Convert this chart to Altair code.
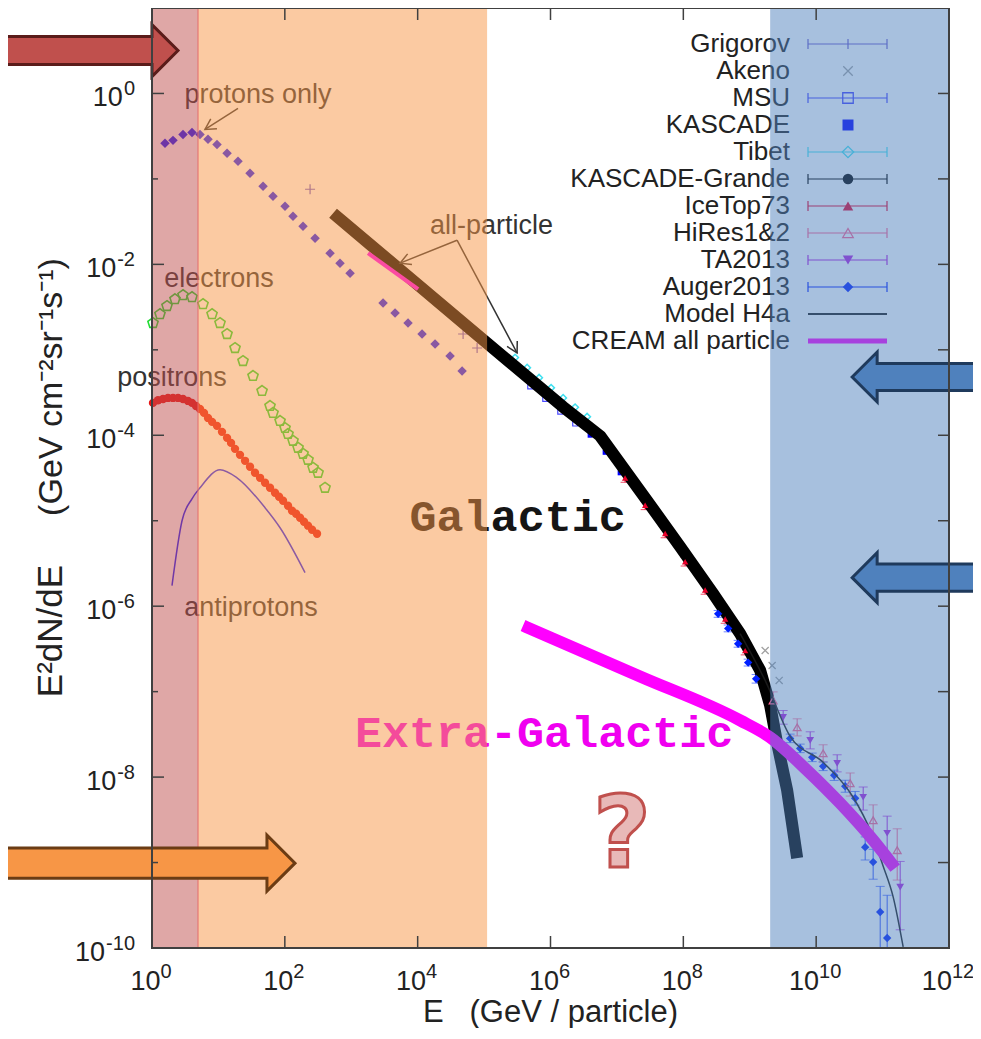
import math
import altair as alt
import numpy as np
import pandas as pd

# ---------------- values ----------------
# all positions are log10(E / GeV) and log10(E^2 dN/dE / GeV cm^-2 sr^-1 s^-1)
protons_lgE = [0.196, 0.316, 0.467, 0.602, 0.723, 0.843, 0.979, 1.130, 1.295, 1.476, 1.672, 1.822, 2.003,
               2.123, 2.274, 2.455, 2.681, 2.831, 2.982, 3.479, 3.660, 3.855, 4.066, 4.262, 4.488, 4.669]
protons_lgF = [-0.584, -0.549, -0.479, -0.456, -0.479, -0.537, -0.596, -0.701, -0.794, -0.935, -1.086, -1.203, -1.320,
               -1.437, -1.554, -1.694, -1.869, -1.986, -2.103, -2.453, -2.570, -2.687, -2.815, -2.932, -3.072, -3.248]

electrons_lgE = [0.015, 0.120, 0.226, 0.346, 0.467, 0.602, 0.768, 0.904, 1.024, 1.130, 1.250, 1.370, 1.521,
                 1.657, 1.777, 1.822, 1.928, 2.003, 2.048, 2.123, 2.199, 2.274, 2.349, 2.425, 2.500, 2.605]
electrons_lgF = [-2.687, -2.582, -2.488, -2.407, -2.360, -2.383, -2.465, -2.582, -2.687, -2.815, -2.979, -3.131, -3.306,
                 -3.481, -3.657, -3.738, -3.832, -3.914, -3.984, -4.065, -4.147, -4.217, -4.287, -4.381, -4.439, -4.615]

positrons_lgE = [0.015, 0.090, 0.166, 0.241, 0.316, 0.392, 0.467, 0.542, 0.602, 0.663, 0.723, 0.783, 0.843, 0.904,
                 0.979, 1.054, 1.130, 1.190, 1.250, 1.325, 1.401, 1.476, 1.551, 1.627, 1.702, 1.777, 1.852, 1.913,
                 1.973, 2.048, 2.108, 2.169, 2.229, 2.289, 2.349, 2.410, 2.485]
positrons_lgF = [-3.621, -3.590, -3.575, -3.563, -3.563, -3.563, -3.575, -3.598, -3.621, -3.657, -3.692, -3.738, -3.797,
                 -3.843, -3.890, -3.960, -4.030, -4.089, -4.159, -4.229, -4.299, -4.369, -4.439, -4.498, -4.556, -4.614,
                 -4.673, -4.720, -4.766, -4.825, -4.883, -4.918, -4.965, -5.012, -5.058, -5.105, -5.152]

antiprotons_lgE = [0.301, 0.452, 0.602, 0.723, 1.024, 1.280, 1.702, 1.928, 2.304]
antiprotons_lgF = [-5.759, -5.000, -4.743, -4.614, -4.404, -4.498, -4.848, -5.082, -5.607]

grigorov_lgE = [2.380, 4.684, 4.895]
grigorov_lgF = [-1.121, -2.815, -2.979]

galactic_lgE = [2.726, 5.045, 6.190, 6.747, 7.455, 7.952, 8.449, 8.855, 9.157, 9.307, 9.413, 9.563, 9.714]
galactic_lgF = [-1.402, -2.921, -3.668, -4.007, -4.766, -5.304, -5.853, -6.320, -6.752, -7.161, -7.605, -8.154, -8.949]

cream_lgE = [3.253, 4.006]
cream_lgF = [-1.869, -2.290]

tibet_lgE = [5.467, 5.648, 5.828, 6.009, 6.190, 6.370, 6.551]
tibet_lgF = [-3.091, -3.209, -3.327, -3.445, -3.563, -3.673, -3.783]

msu_lgE = [5.693, 5.919, 6.145, 6.370]
msu_lgF = [-3.430, -3.577, -3.725, -3.864]

kascade_lgE = [6.596, 6.822, 7.048]
kascade_lgF = [-4.000, -4.200, -4.440]

kgrande_lgE = [7.048, 7.500, 7.952, 8.404, 8.855]
kgrande_lgF = [-4.330, -4.815, -5.304, -5.803, -6.320]

icetop_lgE = [7.123, 7.425, 7.726, 8.027, 8.328, 8.630, 8.931]
icetop_lgF = [-4.500, -4.820, -5.150, -5.480, -5.810, -6.150, -6.520]

auger_lgE = [8.524, 8.675, 8.825, 8.976, 9.096, 9.608, 9.759, 9.940, 10.105, 10.271, 10.437, 10.587,
             10.738, 10.858, 10.964, 11.069]
auger_lgF = [-6.090, -6.260, -6.440, -6.660, -6.850, -7.547, -7.664, -7.769, -7.874, -7.979, -8.107, -8.248,
             -8.820, -8.995, -9.579, -9.883]
auger_errlo = [0.04, 0.04, 0.04, 0.04, 0.05, 0.05, 0.05, 0.05, 0.05, 0.06, 0.07, 0.08, 0.15, 0.20, 0.45, 0.40]
auger_errhi = [0.04, 0.04, 0.04, 0.04, 0.05, 0.05, 0.05, 0.05, 0.05, 0.06, 0.07, 0.08, 0.12, 0.15, 0.30, 0.50]

hires_lgE = [9.352, 9.714, 10.105, 10.512, 10.858, 11.220]
hires_lgF = [-7.103, -7.418, -7.722, -8.072, -8.505, -8.855]
hires_errlo = [0.10, 0.10, 0.10, 0.15, 0.20, 0.35]
hires_errhi = [0.10, 0.10, 0.10, 0.12, 0.18, 0.25]

ta_lgE = [9.503, 9.910, 10.316, 10.708, 11.069, 11.265]
ta_lgF = [-7.301, -7.570, -7.839, -8.236, -8.657, -9.287]
ta_errlo = [0.08, 0.10, 0.10, 0.15, 0.25, 0.50]
ta_errhi = [0.08, 0.10, 0.10, 0.12, 0.20, 0.30]

akeno_lgE = [9.232, 9.337, 9.443]
akeno_lgF = [-6.519, -6.694, -6.869]

h4a_lgE = [8.855, 9.232, 9.608, 10.105, 10.557, 10.813, 11.009, 11.160, 11.310]
h4a_lgF = [-6.320, -6.869, -7.523, -7.827, -8.236, -8.621, -9.042, -9.404, -9.988]

extragal_lgE = [5.587, 7.349, 8.855, 9.307, 9.864, 10.361, 10.858, 11.190]
extragal_lgF = [-6.227, -6.822, -7.336, -7.535, -7.921, -8.306, -8.738, -9.065]

# energy ranges shaded in the picture (GeV)
band_lo = [1.0, 4.93, 2.03e9]
band_hi = [4.93, 1.11e5, 1.0e12]
band_col = ["#c0504d", "#f79646", "#4f81bd"]

# text annotations (centre log10 E, baseline log10 F)
ann_text = ["protons only", "electrons", "positrons", "antiprotons", "all-particle"]
ann_lgE = [1.596, 1.009, 0.301, 1.491, 5.113]
ann_lgF = [-0.111, -2.266, -3.423, -6.110, -1.647]

# annotation arrows: (start lgE, start lgF, end lgE, end lgF)
ann_arrows = [(1.295, -0.175, 0.798, -0.421),
              (4.593, -1.717, 3.735, -1.986),
              (4.593, -1.717, 5.497, -3.037)]

legend_labels = ["Grigorov", "Akeno", "MSU", "KASCADE", "Tibet", "KASCADE-Grande", "IceTop73",
                 "HiRes1&2", "TA2013", "Auger2013", "Model H4a", "CREAM all particle"]
legend_colors = ["#6a5acd", "#a0a0a0", "#4040ff", "#0000ff", "#40e0f0", "#000000", "#e8002a",
                 "#ff6090", "#b020e0", "#0020ff", "#1a1a1a", "#ff00ff"]

x_tick_exps = [0, 2, 4, 6, 8, 10, 12]
y_tick_exps = [0, -2, -4, -6, -8, -10]

# ---------------- layout ----------------
W, H = 797, 940
LX0, LX1 = 0, 12
LY0, LY1 = -10, 1
SANS = "Liberation Sans"
MONO = "Liberation Mono"
TXT = "#222222"
NB = "\u00a0"

XS = alt.Scale(type="log", domain=[10.0 ** LX0, 10.0 ** LX1])
YS = alt.Scale(type="log", domain=[10.0 ** LY0, 10.0 ** LY1])


def px2x(px):
    return 10 ** (LX0 + px / W * (LX1 - LX0))


def py2y(py):
    return 10 ** (LY1 - py / H * (LY1 - LY0))


def x2px(x):
    return (math.log10(x) - LX0) / (LX1 - LX0) * W


def y2py(y):
    return (LY1 - math.log10(y)) / (LY1 - LY0) * H


def EX(f="x"):
    return alt.X(f"{f}:Q", scale=XS, axis=None)


def EY(f="y"):
    return alt.Y(f"{f}:Q", scale=YS, axis=None)


def frame(lx, ly, **cols):
    d = pd.DataFrame({"x": np.power(10.0, np.array(lx, dtype=float)),
                      "y": np.power(10.0, np.array(ly, dtype=float))})
    for k, v in cols.items():
        d[k] = v
    return d


def points(lx, ly, **mk):
    mk.setdefault("opacity", 1)
    return alt.Chart(frame(lx, ly)).mark_point(**mk).encode(x=EX(), y=EY())


def line(lx, ly, **mk):
    d = frame(lx, ly, o=list(range(len(lx))))
    return alt.Chart(d).mark_line(**mk).encode(x=EX(), y=EY(), order="o:Q")


def errbars(lx, ly, lo, hi, color):
    lx = np.array(lx); ly = np.array(ly)
    d = pd.DataFrame({"x": 10 ** lx, "y": 10 ** (ly - np.array(lo)), "y2": 10 ** (ly + np.array(hi))})
    caps = pd.DataFrame({"x": np.concatenate([10 ** lx, 10 ** lx]),
                         "y": np.concatenate([d["y"].values, d["y2"].values])})
    r = alt.Chart(d).mark_rule(color=color, strokeWidth=1, clip=True).encode(x=EX(), y=EY(), y2="y2:Q")
    c = alt.Chart(caps).mark_tick(orient="horizontal", size=9, thickness=1, color=color, clip=True).encode(x=EX(), y=EY())
    return [r, c]


def text_at(lx, ly, txt, **mk):
    d = frame([lx], [ly], t=[txt])
    return alt.Chart(d).mark_text(**mk).encode(x=EX(), y=EY(), text="t:N")


layers = []

# ---------------- particle spectra ----------------
PENT = "M0,-1L0.951,-0.309L0.588,0.809L-0.588,0.809L-0.951,-0.309Z"
PLUS = "M-1,0L1,0M0,-1L0,1"
CROSS = "M-1,-1L1,1M1,-1L-1,1"

layers.append(line(antiprotons_lgE, antiprotons_lgF, color="#2020ff", strokeWidth=1.5, interpolate="monotone"))
layers.append(points(electrons_lgE, electrons_lgF, shape=PENT, filled=False, color="#22dd33", strokeWidth=1.6, size=115))
layers.append(alt.Chart(frame(positrons_lgE, positrons_lgF)).mark_circle(color="#e81414", size=70, opacity=1)
              .encode(x=EX(), y=EY()))
layers.append(points(protons_lgE, protons_lgF, shape="diamond", filled=True, color="#1a1aff", size=90))
layers.append(points(grigorov_lgE, grigorov_lgF, shape=PLUS, filled=False, color="#6a5acd", strokeWidth=1.2, size=100))

# all-particle data around the knee / ankle
layers += errbars(icetop_lgE, icetop_lgF, [0.05] * 7, [0.05] * 7, "#e8002a")
layers += errbars(hires_lgE, hires_lgF, hires_errlo, hires_errhi, "#ff6090")
layers += errbars(ta_lgE, ta_lgF, ta_errlo, ta_errhi, "#b020e0")
layers += errbars(auger_lgE, auger_lgF, auger_errlo, auger_errhi, "#3050ff")
layers.append(points(tibet_lgE, tibet_lgF, shape="diamond", filled=False, color="#40e0f0", strokeWidth=1.5, size=45))
layers.append(points(msu_lgE, msu_lgF, shape="square", filled=False, color="#4a4aff", strokeWidth=1.2, size=22))
layers.append(points(kascade_lgE, kascade_lgF, shape="square", filled=True, color="#0000ff", size=24))

# Galactic component (thick)
layers.append(line(galactic_lgE, galactic_lgF, color="#000000", strokeWidth=12, strokeCap="butt", strokeJoin="round"))
layers.append(points(kgrande_lgE, kgrande_lgF, shape="circle", filled=True, color="#000000", size=36))
layers.append(points(icetop_lgE, icetop_lgF, shape="triangle-up", filled=True, color="#e8002a", size=40))
layers.append(points(akeno_lgE, akeno_lgF, shape=CROSS, filled=False, color="#a0a0a0", strokeWidth=1.3, size=50))
layers.append(points(auger_lgE, auger_lgF, shape="diamond", filled=True, color="#0020ff", size=70))
layers.append(points(hires_lgE, hires_lgF, shape="triangle-up", filled=False, color="#ff6090", strokeWidth=1.3, size=60))
layers.append(points(ta_lgE, ta_lgF, shape="triangle-down", filled=True, color="#b020e0", size=60))
layers.append(line(cream_lgE, cream_lgF, color="#ff00ff", strokeWidth=4))
layers.append(line(h4a_lgE, h4a_lgF, color="#1a1a1a", strokeWidth=1.5, interpolate="monotone", clip=True))

# Extra-galactic component (thick magenta)
layers.append(line(extragal_lgE, extragal_lgF, color="#ff00ff", strokeWidth=12, strokeCap="butt",
                   interpolate="monotone"))

# ---------------- annotations ----------------
ann = frame(ann_lgE, ann_lgF, t=ann_text)
layers.append(alt.Chart(ann).mark_text(font=SANS, fontSize=27, color="#333333", align="center",
                                       baseline="alphabetic").encode(x=EX(), y=EY(), text="t:N"))

CHEV = "M-0.55,1L0,0L0.55,1"
for (a, b, c, d) in ann_arrows:
    seg = pd.DataFrame({"x": [10 ** a], "y": [10 ** b], "x2": [10 ** c], "y2": [10 ** d]})
    layers.append(alt.Chart(seg).mark_rule(color="#333333", strokeWidth=1.5)
                  .encode(x=EX(), y=EY(), x2="x2:Q", y2="y2:Q"))
    dxp = x2px(10 ** c) - x2px(10 ** a)
    dyp = y2py(10 ** d) - y2py(10 ** b)
    ang = math.degrees(math.atan2(dxp, -dyp)) % 360
    layers.append(points([c], [d], shape=CHEV, filled=False, color="#333333", strokeWidth=1.5, size=441,
                         angle=ang))

layers.append(text_at(5.505, -5.117, "Galactic", font=MONO, fontSize=45, fontWeight="bold", color="#151515",
                      align="center", baseline="alphabetic"))
layers.append(text_at(5.904, -7.652, "Extra-Galactic", font=MONO, fontSize=45, fontWeight="bold", color="#f000f0",
                      align="center", baseline="alphabetic"))

# ---------------- legend (inside the plot) ----------------
LEG_TOP, LEG_STEP = 36, 27
LEG_TX, LEG_L, LEG_R, LEG_C = 638, 656, 735, 696
rows = [LEG_TOP + LEG_STEP * i for i in range(len(legend_labels))]
leg = pd.DataFrame({"x": [px2x(LEG_TX)] * len(rows), "y": [py2y(r) for r in rows], "t": legend_labels})
layers.append(alt.Chart(leg).mark_text(font=SANS, fontSize=26, color=TXT, align="right", baseline="middle")
              .encode(x=EX(), y=EY(), text="t:N"))

err_rows = [0, 2, 4, 5, 6, 7, 8, 9]
lr = pd.DataFrame({"x": [px2x(LEG_L)] * len(err_rows), "x2": [px2x(LEG_R)] * len(err_rows),
                   "y": [py2y(rows[i]) for i in err_rows], "c": [legend_colors[i] for i in err_rows]})
layers.append(alt.Chart(lr).mark_rule(strokeWidth=1.2).encode(x=EX(), x2="x2:Q", y=EY(),
                                                             color=alt.Color("c:N", scale=None)))
cap_rows, cap_x = [], []
for i in err_rows:
    for xx in ([LEG_L, LEG_R, LEG_C] if i == 0 else [LEG_L, LEG_R]):
        cap_rows.append(i)
        cap_x.append(xx)
lc = pd.DataFrame({"x": [px2x(v) for v in cap_x], "y": [py2y(rows[i] - 5) for i in cap_rows],
                   "y2": [py2y(rows[i] + 5) for i in cap_rows], "c": [legend_colors[i] for i in cap_rows]})
layers.append(alt.Chart(lc).mark_rule(strokeWidth=1.2).encode(x=EX(), y=EY(), y2="y2:Q",
                                                             color=alt.Color("c:N", scale=None)))


def leg_marker(i, **mk):
    mk.setdefault("opacity", 1)
    d = pd.DataFrame({"x": [px2x(LEG_C)], "y": [py2y(rows[i])]})
    return alt.Chart(d).mark_point(color=legend_colors[i], **mk).encode(x=EX(), y=EY())


layers.append(leg_marker(1, shape=CROSS, filled=False, strokeWidth=1.3, size=90))
layers.append(leg_marker(2, shape="square", filled=False, strokeWidth=1.3, size=110))
layers.append(leg_marker(3, shape="square", filled=True, size=121))
layers.append(leg_marker(4, shape="diamond", filled=False, strokeWidth=1.3, size=130))
layers.append(leg_marker(5, shape="circle", filled=True, size=110))
layers.append(leg_marker(6, shape="triangle-up", filled=True, size=110))
layers.append(leg_marker(7, shape="triangle-up", filled=False, strokeWidth=1.3, size=110))
layers.append(leg_marker(8, shape="triangle-down", filled=True, size=110))
layers.append(leg_marker(9, shape="diamond", filled=True, size=110))
for i, sw in [(10, 2), (11, 5)]:
    d = pd.DataFrame({"x": [px2x(LEG_L)], "x2": [px2x(LEG_R)], "y": [py2y(rows[i])]})
    layers.append(alt.Chart(d).mark_rule(color=legend_colors[i], strokeWidth=sw).encode(x=EX(), x2="x2:Q", y=EY()))

# ---------------- translucent energy bands (on top of the data) ----------------
bands = pd.DataFrame({"x": band_lo, "x2": band_hi, "y": [10.0 ** LY0] * 3, "y2": [10.0 ** LY1] * 3, "c": band_col})
layers.append(alt.Chart(bands).mark_rect(opacity=0.5).encode(x=EX(), x2="x2:Q", y=EY(), y2="y2:Q",
                                                            color=alt.Color("c:N", scale=None)))
edge = pd.DataFrame({"x": [band_hi[0]], "y": [10.0 ** LY0], "y2": [10.0 ** LY1]})
layers.append(alt.Chart(edge).mark_rule(color="#e46c6a", strokeWidth=1).encode(x=EX(), y=EY(), y2="y2:Q"))

# question mark
layers.append(text_at(7.078, -9.054, "?", font="DejaVu Sans", fontSize=100, fontWeight="bold", color="#e8b9b8",
                      stroke="#c0504d", strokeWidth=3, align="center", baseline="alphabetic"))

# block arrows (flux markers)
ARROW_R = "M-1,-0.157L0.708,-0.157L0.708,-0.292L1,0L0.708,0.292L0.708,0.157L-1,0.157Z"
ARROW_O = "M-1,-0.102L0.81,-0.102L0.81,-0.19L1,0L0.81,0.19L0.81,0.102L-1,0.102Z"
ARROW_B = "M1,-0.196L-0.638,-0.196L-0.638,-0.362L-1,0L-0.638,0.362L-0.638,0.196L1,0.196Z"
block_arrows = [(-0.949, 0.502, ARROW_R, 178, "#c0504d", "#5a1c1a"),
                (-0.068, -9.007, ARROW_O, 295, "#f79646", "#6b3c14"),
                (11.581, -3.318, ARROW_B, 138, "#4f81bd", "#1f3a5c"),
                (11.581, -5.666, ARROW_B, 138, "#4f81bd", "#1f3a5c")]
for (ax, ay, path, span, fc, sc) in block_arrows:
    layers.append(points([ax], [ay], shape=path, filled=True, color=fc, stroke=sc, strokeWidth=3,
                         size=span * span))

# ---------------- frame and ticks ----------------
TICK_C = "#404040"
tk = []
for k in x_tick_exps:
    tk.append((10.0 ** k, 10.0 ** LY0, 10.0 ** k, py2y(H - 12)))
    tk.append((10.0 ** k, 10.0 ** LY1, 10.0 ** k, py2y(12)))
for k in range(LY0, LY1 + 1):
    ln = 12 if k % 2 == 0 else 6
    tk.append((10.0 ** LX0, 10.0 ** k, px2x(ln), 10.0 ** k))
    tk.append((10.0 ** LX1, 10.0 ** k, px2x(W - 11), 10.0 ** k))
tkd = pd.DataFrame(tk, columns=["x", "y", "x2", "y2"])
layers.append(alt.Chart(tkd).mark_rule(color=TICK_C, strokeWidth=1.5).encode(x=EX(), y=EY(), x2="x2:Q", y2="y2:Q"))

fr = pd.DataFrame({"x": [10.0 ** LX0], "x2": [10.0 ** LX1], "y": [10.0 ** LY0], "y2": [10.0 ** LY1]})
layers.append(alt.Chart(fr).mark_rect(fillOpacity=0, stroke=TICK_C, strokeWidth=2)
              .encode(x=EX(), x2="x2:Q", y=EY(), y2="y2:Q"))

# ---------------- tick labels 10^n ----------------
BASE_FS, EXP_FS = 27, 20
BASE_W = 1.112 * BASE_FS


def sup_w(s):
    return sum(0.333 if ch == "-" else 0.556 for ch in s) * EXP_FS


groups = {}
for k in x_tick_exps:
    groups.setdefault(round(sup_w(str(k)), 2), []).append(k)
for w, ks in groups.items():
    total = BASE_W + w
    d = pd.DataFrame({"x": [10.0 ** k for k in ks], "y": [10.0 ** LY0] * len(ks), "b": ["10"] * len(ks),
                      "e": [str(k) for k in ks]})
    layers.append(alt.Chart(d).mark_text(font=SANS, fontSize=BASE_FS, color=TXT, align="left", baseline="alphabetic",
                                         dx=-total / 2 - 1, dy=42).encode(x=EX(), y=EY(), text="b:N"))
    layers.append(alt.Chart(d).mark_text(font=SANS, fontSize=EXP_FS, color=TXT, align="left", baseline="alphabetic",
                                         dx=-total / 2 + BASE_W - 1, dy=30).encode(x=EX(), y=EY(), text="e:N"))

groups = {}
for k in y_tick_exps:
    groups.setdefault(round(sup_w(str(k)), 2), []).append(k)
for w, ks in groups.items():
    d = pd.DataFrame({"x": [10.0 ** LX0] * len(ks), "y": [10.0 ** k for k in ks], "b": ["10"] * len(ks),
                      "e": [str(k) for k in ks]})
    layers.append(alt.Chart(d).mark_text(font=SANS, fontSize=EXP_FS, color=TXT, align="right", baseline="alphabetic",
                                         dx=-17, dy=2).encode(x=EX(), y=EY(), text="e:N"))
    layers.append(alt.Chart(d).mark_text(font=SANS, fontSize=BASE_FS, color=TXT, align="right", baseline="alphabetic",
                                         dx=-17 - w - 1, dy=13).encode(x=EX(), y=EY(), text="b:N"))

# ---------------- axis titles ----------------
layers.append(text_at(6.0, LY0, "E" + NB * 3 + "(GeV / particle)", font=SANS, fontSize=31, color=TXT,
                      align="center", baseline="alphabetic", dy=74))
ytx = math.log10(px2x(-90))
layers.append(text_at(ytx, math.log10(py2y(623)), "E²dN/dE", font=SANS, fontSize=35, color=TXT, align="center",
                      baseline="alphabetic", angle=270))
layers.append(text_at(ytx, math.log10(py2y(379)), "(GeV cm⁻²sr⁻¹s⁻¹)", font=SANS, fontSize=34, color=TXT,
                      align="center", baseline="alphabetic", angle=270))

chart = alt.layer(*layers).properties(
    width=W, height=H,
    padding={"left": 144, "top": 0, "right": 24, "bottom": 80},
    autosize=alt.AutoSizeParams(type="none"),
).configure_view(strokeWidth=0)

chart.save("out.html", embed_options={"renderer": "svg", "actions": False})
